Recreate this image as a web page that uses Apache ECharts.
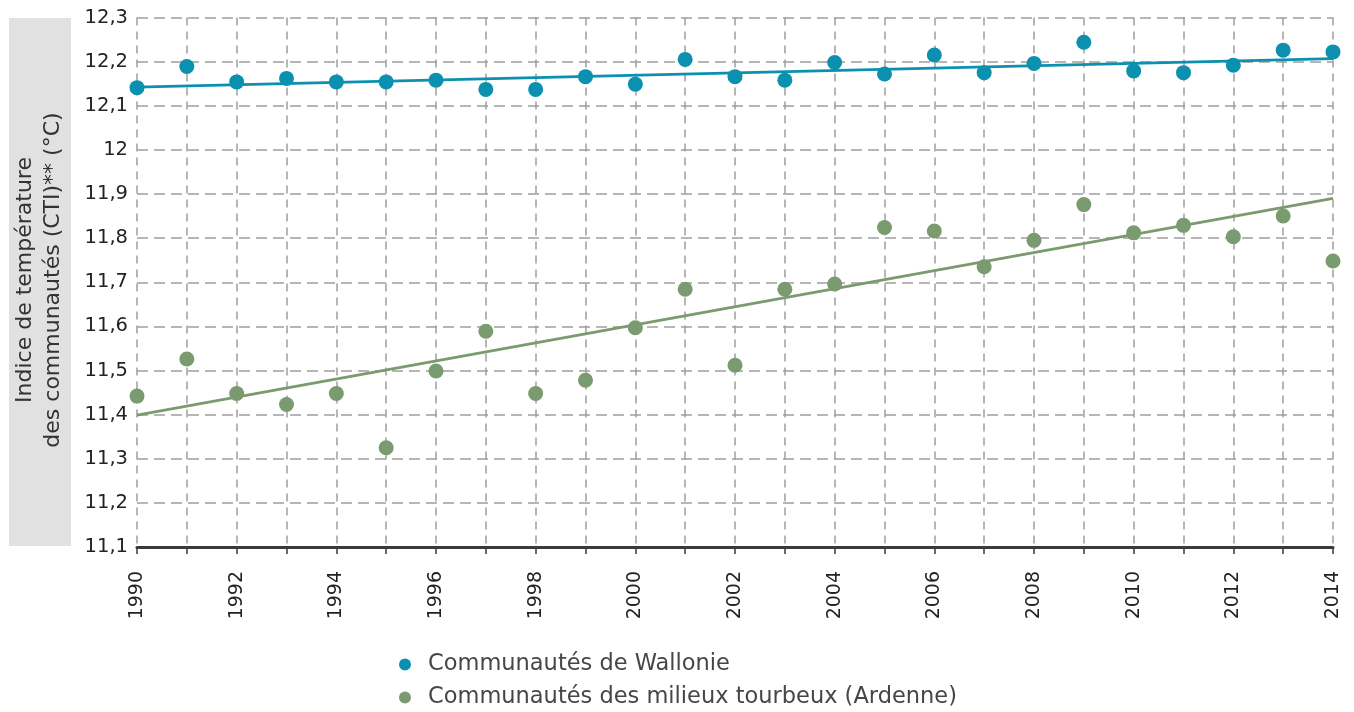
<!DOCTYPE html>
<html><head><meta charset="utf-8">
<script src="https://cdn.jsdelivr.net/npm/echarts@6/dist/echarts.min.js"></script>
<style>html,body{margin:0;padding:0;background:#fff}#c{width:1354px;height:712px}</style>
</head><body><div id="c"></div>
<script>
var years = [1990,1991,1992,1993,1994,1995,1996,1997,1998,1999,2000,2001,2002,2003,2004,2005,2006,2007,2008,2009,2010,2011,2012,2013,2014];
var wallonie = [12.141,12.189,12.154,12.162,12.154,12.154,12.158,12.137,12.137,12.166,12.149,12.205,12.166,12.158,12.198,12.172,12.215,12.175,12.196,12.244,12.179,12.175,12.192,12.226,12.222];
var tourbeux = [11.442,11.526,11.448,11.423,11.448,11.325,11.499,11.589,11.448,11.478,11.597,11.684,11.512,11.684,11.696,11.824,11.816,11.735,11.795,11.876,11.812,11.829,11.803,11.850,11.748];
var trendYears = [1990, 2014];
var trendWallonie = [12.142, 12.207];
var trendTourbeux = [11.399, 11.890];
var seriesNames = ['Communautés de Wallonie', 'Communautés des milieux tourbeux (Ardenne)'];
var yTitle = ['Indice de température', 'des communautés (CTI)** (°C)'];

var blue = '#0b90b0', green = '#7a9a6f';
function pairs(xs, ys){ return xs.map(function(x,i){return [x, ys[i]];}); }
function legendFor(name, top){
  return {
    orient:'vertical', left:394, top:top, itemGap:0,
    icon:'circle', itemWidth:12, itemHeight:12,
    textStyle:{color:'#464646', fontFamily:'DejaVu Sans', fontSize:22.5, padding:[0,0,0,12]},
    data:[name]
  };
}

var chart = echarts.init(document.getElementById('c'), null, {renderer:'canvas'});
chart.setOption({
  animation: false,
  grid: {left:137, right:21, top:17.5, bottom:165},
  xAxis: {
    type:'value', min:1990, max:2014, interval:1,
    axisLine:{show:true, onZero:false, lineStyle:{color:'#3a3a3a', width:3}},
    axisTick:{show:true, length:7, lineStyle:{color:'#3a3a3a', width:1.5}},
    axisLabel:{rotate:90, margin:24, color:'#222', fontFamily:'DejaVu Sans', fontSize:19,
      formatter:function(v){ return (v % 2 === 0) ? String(v) : ''; }},
    splitLine:{show:true, lineStyle:{type:[8,6], color:'#9e9e9e', width:1.5}}
  },
  yAxis: {
    type:'value', min:11.1, max:12.3, interval:0.1,
    axisLine:{show:false}, axisTick:{show:false},
    axisLabel:{margin:9, color:'#222', fontFamily:'DejaVu Sans', fontSize:19.5,
      formatter:function(v){ return (Math.round(v*10)/10).toString().replace('.', ','); }},
    splitLine:{show:true, lineStyle:{type:[11,6], color:'#9e9e9e', width:1.5}}
  },
  legend: [legendFor(seriesNames[0], 648), legendFor(seriesNames[1], 681)],
  graphic: [
    {type:'rect', shape:{x:9, y:18, width:62, height:528}, style:{fill:'#e1e1e1'}, z:-1},
    {type:'text', x:39, y:280, rotation:Math.PI/2,
      style:{text: yTitle.join('\n'), fill:'#333', font:'22px "DejaVu Sans"', align:'center', verticalAlign:'middle', lineHeight:28}}
  ],
  series: [
    {name:seriesNames[0], type:'scatter', symbolSize:15, itemStyle:{color:blue, opacity:1}, data:pairs(years, wallonie), z:5},
    {name:seriesNames[1], type:'scatter', symbolSize:15, itemStyle:{color:green, opacity:1}, data:pairs(years, tourbeux), z:5},
    {name:'trendW', type:'line', symbol:'none', lineStyle:{color:blue, width:2.8}, data:pairs(trendYears, trendWallonie), z:4},
    {name:'trendT', type:'line', symbol:'none', lineStyle:{color:green, width:2.8}, data:pairs(trendYears, trendTourbeux), z:4}
  ]
});
</script></body></html>
